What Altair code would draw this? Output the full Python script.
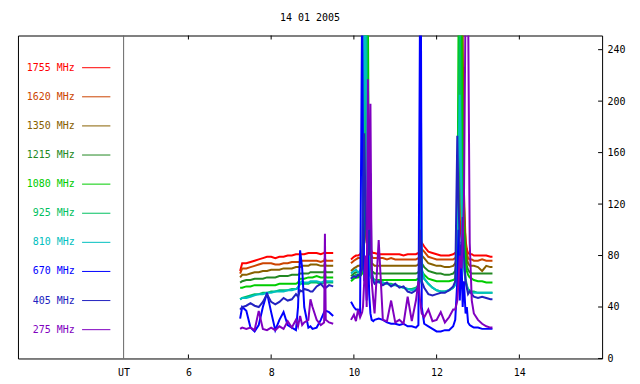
import altair as alt
import pandas as pd

MONO = "DejaVu Sans Mono"

SERIES = ["1755 MHz", "1620 MHz", "1350 MHz", "1215 MHz", "1080 MHz",
          "925 MHz", "810 MHz", "670 MHz", "405 MHz", "275 MHz"]
COLORS = ["#ff0000", "#cc4400", "#886000", "#228822", "#00cc00",
          "#00c060", "#00c0c0", "#0000ff", "#2222c0", "#8000c0"]

X_TICKS = [6, 8, 10, 12, 14]
Y_TICKS = [0, 40, 80, 120, 160, 200, 240]
UT_X = 4.434

T_A = [7.25, 7.3, 7.4, 7.5, 7.6, 7.7, 7.8, 7.9, 8.0, 8.1,
       8.2, 8.3, 8.4, 8.5, 8.6, 8.65, 8.7, 8.75, 8.8, 8.9,
       8.95, 9.0, 9.1, 9.2, 9.28, 9.3, 9.32, 9.4, 9.5]
T_B = [9.93, 10.0, 10.05, 10.1, 10.15, 10.2, 10.22, 10.25, 10.28, 10.31,
       10.34, 10.37, 10.4, 10.43, 10.47, 10.5, 10.6, 10.7, 10.8, 10.9,
       11.0, 11.1, 11.2, 11.3, 11.4, 11.5, 11.56, 11.6, 11.62, 11.64,
       11.7, 11.8, 11.9, 12.0, 12.1, 12.2, 12.3, 12.4, 12.45, 12.5,
       12.53, 12.56, 12.6, 12.63, 12.66, 12.7, 12.73, 12.76, 12.8, 12.85,
       12.9, 13.0, 13.1, 13.2, 13.3, 13.35]

F1755_A = [68, 74, 74, 75, 76, 77, 78, 79, 79, 78,
           79, 79, 80, 80, 81, 81, 81, 81, 81, 82,
           82, 82, 82, 81, 82, 83, 82, 82, 82]
F1620_A = [66, 70, 70, 71, 72, 73, 74, 74, 74, 73,
           73, 74, 74, 75, 75, 75, 75, 76, 76, 76,
           76, 76, 76, 75, 76, 78, 76, 76, 76]
F1350_A = [63, 65, 65, 66, 67, 67, 68, 68, 69, 69,
           69, 70, 70, 70, 71, 71, 71, 72, 72, 72,
           73, 73, 73, 72, 72, 74, 72, 72, 72]
F1215_A = [59, 60, 61, 61, 62, 62, 62, 63, 63, 63,
           64, 64, 64, 65, 65, 65, 66, 66, 66, 66,
           67, 67, 67, 67, 67, 69, 67, 67, 67]
F1080_A = [55, 55, 56, 56, 57, 57, 57, 57, 57, 57,
           58, 58, 58, 58, 58, 59, 62, 62, 62, 63,
           63, 63, 64, 63, 63, 66, 63, 63, 63]
F925_A = [46, 47, 48, 49, 50, 50, 51, 51, 52, 52,
          53, 53, 53, 54, 54, 55, 58, 58, 58, 58,
          59, 59, 59, 58, 59, 61, 59, 59, 59]
F810_A = [46, 47, 47, 48, 49, 50, 50, 51, 51, 52,
          52, 52, 53, 53, 54, 55, 59, 60, 59, 59,
          60, 60, 60, 59, 60, 62, 60, 60, 60]
F670_A = [31, 40, 37, 24, 21, 26, 40, 51, 36, 22,
          30, 36, 26, 24, 22, 40, 84, 70, 40, 24,
          25, 23, 24, 30, 36, 37, 37, 36, 33]
F405_A = [38, 40, 41, 43, 41, 40, 44, 50, 44, 42,
          44, 47, 45, 46, 50, 48, 53, 52, 54, 53,
          52, 52, 56, 58, 55, 56, 55, 57, 56]
F275_A = [23, 24, 23, 24, 22, 37, 23, 22, 24, 22,
          25, 23, 29, 24, 30, 25, 33, 26, 28, 30,
          46, 40, 30, 26, 28, 97, 30, 28, 27]

F1755_B = [77, 79, 80, 80, 81, 84, 88, 92, 100, 120,
           105, 92, 86, 83, 82, 82, 81, 81, 81, 81,
           81, 81, 80, 81, 81, 81, 82, 84, 88, 90,
           87, 83, 82, 81, 80, 80, 80, 81, 82, 83,
           90, 95, 110, 130, 110, 92, 85, 82, 81, 81,
           80, 80, 80, 80, 79, 79]
F1620_B = [74, 76, 77, 78, 78, 80, 84, 90, 100, 125,
           110, 90, 82, 79, 78, 78, 78, 78, 77, 78,
           77, 77, 77, 77, 77, 77, 78, 80, 84, 85,
           83, 79, 78, 77, 77, 77, 77, 77, 78, 80,
           90, 110, 140, 200, 130, 90, 82, 78, 77, 77,
           76, 76, 77, 76, 76, 76]
F1350_B = [68, 70, 71, 72, 72, 75, 80, 90, 110, 133,
           120, 95, 80, 74, 73, 72, 72, 72, 72, 72,
           72, 72, 72, 72, 72, 72, 73, 78, 82, 80,
           78, 74, 73, 72, 72, 71, 71, 72, 74, 78,
           95, 120, 170, 260, 120, 85, 78, 74, 72, 72,
           72, 71, 68, 72, 71, 71]
F1215_B = [64, 66, 67, 67, 68, 72, 85, 100, 235, 180,
           130, 90, 75, 68, 67, 66, 66, 66, 66, 66,
           66, 66, 66, 66, 66, 66, 67, 70, 75, 74,
           71, 68, 67, 66, 66, 65, 65, 66, 68, 75,
           120, 180, 200, 150, 100, 80, 72, 69, 67, 66,
           66, 66, 66, 66, 66, 66]
F1080_B = [60, 62, 63, 63, 64, 66, 75, 100, 260, 260,
           260, 100, 70, 64, 62, 61, 61, 61, 61, 61,
           61, 61, 61, 61, 61, 61, 62, 66, 105, 68,
           65, 62, 61, 60, 60, 60, 60, 61, 62, 80,
           260, 260, 260, 150, 100, 75, 68, 65, 63, 62,
           61, 60, 60, 59, 59, 59]
F925_B = [62, 64, 65, 65, 66, 68, 90, 200, 260, 260,
          120, 75, 65, 62, 61, 61, 60, 59, 58, 58,
          57, 56, 55, 54, 54, 55, 57, 62, 70, 66,
          62, 58, 55, 53, 52, 52, 53, 55, 58, 75,
          180, 260, 150, 100, 75, 62, 57, 54, 53, 52,
          52, 51, 51, 51, 51, 51]
F810_B = [66, 68, 69, 67, 68, 70, 120, 260, 260, 150,
          90, 70, 64, 62, 61, 60, 59, 59, 58, 57,
          57, 56, 55, 54, 53, 54, 56, 60, 206, 70,
          62, 58, 55, 53, 52, 52, 53, 55, 57, 70,
          150, 205, 120, 90, 70, 60, 56, 53, 52, 51,
          51, 51, 51, 51, 51, 51]
F670_B = [44, 40, 38, 38, 36, 280, 150, 60, 70, 45,
          90, 50, 35, 30, 29, 30, 31, 30, 28, 27,
          27, 26, 27, 25, 25, 24, 26, 280, 280, 40,
          27, 25, 23, 21, 21, 22, 22, 25, 30, 60,
          100, 45, 80, 40, 60, 35, 40, 28, 26, 25,
          24, 24, 23, 23, 23, 23]
F405_B = [62, 64, 63, 65, 64, 70, 110, 175, 120, 90,
          100, 80, 144, 70, 60, 58, 60, 57, 59, 56,
          58, 55, 56, 52, 51, 53, 56, 100, 80, 60,
          55, 50, 49, 50, 51, 51, 53, 56, 60, 173,
          120, 90, 70, 110, 80, 60, 55, 50, 52, 50,
          48, 47, 48, 47, 46, 46]
F275_B = [30, 34, 29, 38, 32, 36, 40, 60, 80, 40,
          217, 100, 198, 60, 45, 35, 92, 30, 29, 45,
          28, 30, 27, 48, 29, 45, 60, 45, 40, 35,
          32, 38, 29, 30, 36, 28, 32, 38, 38, 45,
          60, 80, 70, 90, 120, 280, 280, 280, 90, 45,
          35, 30, 27, 25, 24, 24]

SEG_A = [F1755_A, F1620_A, F1350_A, F1215_A, F1080_A, F925_A, F810_A, F670_A, F405_A, F275_A]
SEG_B = [F1755_B, F1620_B, F1350_B, F1215_B, F1080_B, F925_B, F810_B, F670_B, F405_B, F275_B]

rows = []
for name, a, b in zip(SERIES, SEG_A, SEG_B):
    assert len(a) == len(T_A), name
    assert len(b) == len(T_B), name
    for t, v in zip(T_A, a):
        rows.append({"s": name, "seg": name + " a", "t": t, "v": v})
    for t, v in zip(T_B, b):
        rows.append({"s": name, "seg": name + " b", "t": t, "v": v})
df = pd.DataFrame(rows)

PLOT_W = 586
PLOT_H = 324

xs = alt.Scale(domain=[1.88, 16.0], nice=False, zero=False)
ys = alt.Scale(domain=[0, 251], nice=False, zero=False)
x_axis = alt.Axis(values=[UT_X] + X_TICKS, labelExpr="datum.value < 5 ? 'UT' : datum.label",
                  ticks=False, domain=False, grid=False, title=None, labelPadding=9,
                  labelOverlap=False, labelFlush=False)
y_axis = alt.Axis(orient="right", values=Y_TICKS, ticks=False, domain=False, grid=False,
                  title=None, labelPadding=5, labelOverlap=False, labelFlush=False)
X = alt.X("t:Q", scale=xs, axis=x_axis)
Y = alt.Y("v:Q", scale=ys, axis=y_axis)

lines = alt.Chart(df).mark_line(clip=True, strokeWidth=2).encode(
    x=X, y=Y,
    color=alt.Color("s:N", scale=alt.Scale(domain=SERIES, range=COLORS), legend=None),
    detail="seg:N",
)

ut_line = alt.Chart(pd.DataFrame({"t": [UT_X]})).mark_rule(color="#666666", strokeWidth=1).encode(x=X)

xt = pd.DataFrame({"t": X_TICKS})
bottom_ticks = alt.Chart(xt).mark_rule(color="black").encode(
    x=X, y=alt.value(PLOT_H - 4), y2=alt.value(PLOT_H))
top_ticks = alt.Chart(xt).mark_rule(color="black").encode(
    x=X, y=alt.value(0), y2=alt.value(4))
right_ticks = alt.Chart(pd.DataFrame({"v": Y_TICKS})).mark_rule(color="black").encode(
    y=Y, x=alt.value(PLOT_W - 4), x2=alt.value(PLOT_W))

legend_layers = []
for i, (name, col) in enumerate(zip(SERIES, COLORS)):
    ly = 32.3 + 29.2 * i
    one = pd.DataFrame({"s": [name]})
    legend_layers.append(
        alt.Chart(one).mark_text(align="right", baseline="middle", font=MONO, fontSize=10,
                                 color=col).encode(x=alt.value(57), y=alt.value(ly), text="s:N"))
    legend_layers.append(
        alt.Chart(one).mark_rule(color=col, strokeWidth=1).encode(
            x=alt.value(64.3), x2=alt.value(92.7), y=alt.value(ly)))

chart = alt.layer(lines, ut_line, bottom_ticks, top_ticks, right_ticks, *legend_layers).properties(
    width=PLOT_W, height=PLOT_H,
    title=alt.TitleParams("14 01 2005", font=MONO, fontSize=10, fontWeight="normal",
                          anchor="middle", offset=12, color="black"),
    autosize=alt.AutoSizeParams(type="none"),
    padding={"left": 10, "top": 27, "right": 30, "bottom": 20},
).configure_view(stroke="black", strokeWidth=1).configure_axis(
    labelFont=MONO, labelFontSize=10, labelColor="black"
)

chart.save("out.html", embed_options={"renderer": "svg", "actions": False})
